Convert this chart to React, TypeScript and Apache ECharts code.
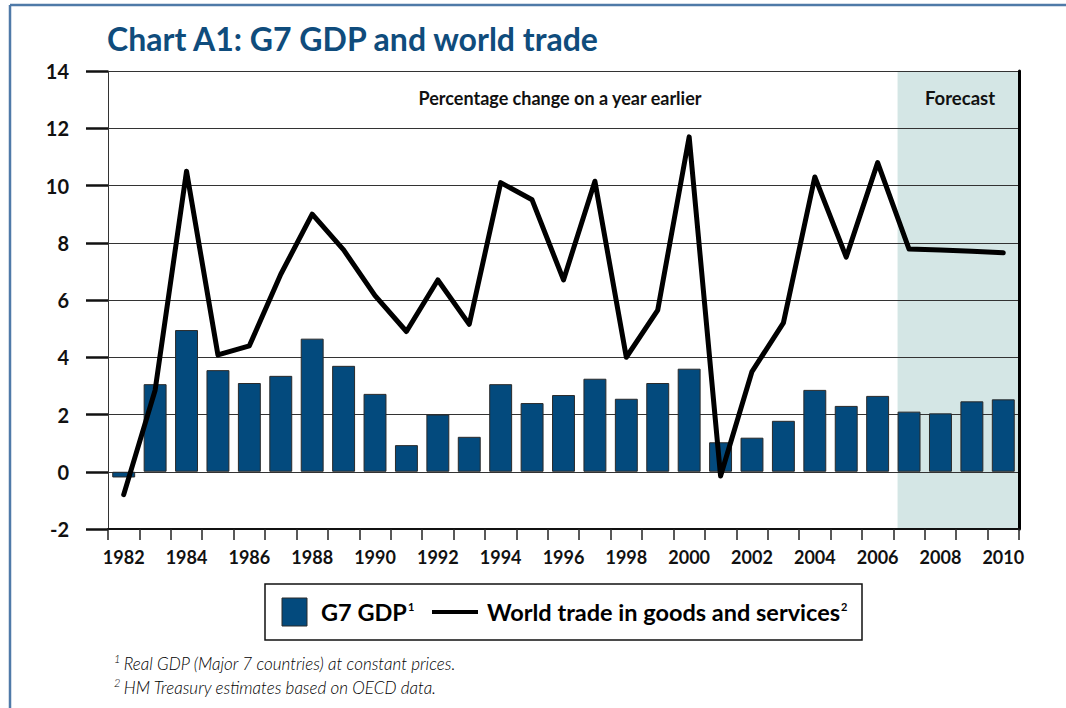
import React, { useEffect, useRef } from "react";
import * as echarts from "echarts";

const years = [
  "1982", "1983", "1984", "1985", "1986", "1987", "1988", "1989", "1990", "1991",
  "1992", "1993", "1994", "1995", "1996", "1997", "1998", "1999", "2000", "2001",
  "2002", "2003", "2004", "2005", "2006", "2007", "2008", "2009", "2010",
];
const g7Gdp = [
  -0.2, 3.06, 4.95, 3.55, 3.1, 3.35, 4.65, 3.7, 2.72, 0.93,
  2.0, 1.22, 3.06, 2.4, 2.68, 3.25, 2.55, 3.1, 3.6, 1.03,
  1.19, 1.78, 2.86, 2.3, 2.65, 2.1, 2.04, 2.46, 2.53,
];
const worldTrade = [
  -0.8, 2.85, 10.5, 4.08, 4.4, 6.9, 9.0, 7.75, 6.15, 4.9,
  6.7, 5.15, 10.1, 9.5, 6.7, 10.15, 4.0, 5.65, 11.7, -0.15,
  3.5, 5.2, 10.3, 7.5, 10.8, 7.78, 7.75, 7.7, 7.65,
];
const firstForecastYear = "2007";
const yMin = -2;
const yMax = 14;
const yStep = 2;

const FONT = "Lato, 'Open Sans', sans-serif";

export default function App() {
  const ref = useRef<HTMLDivElement>(null);
  useEffect(() => {
    if (!ref.current) return;
    const chart = echarts.init(ref.current, null, { renderer: "svg" });
    const option: any = {
      animation: false,
      backgroundColor: "#ffffff",
      textStyle: { fontFamily: FONT },
      grid: { left: 108, right: 47, top: 71, bottom: 179, containLabel: false },
      xAxis: {
        type: "category",
        data: years,
        boundaryGap: true,
        axisLine: { onZero: false, lineStyle: { color: "#111", width: 2 } },
        axisTick: { show: true, interval: 0, length: 11, lineStyle: { color: "#222", width: 1.5 } },
        axisLabel: {
          interval: 1,
          fontSize: 18,
          fontWeight: "bold",
          color: "#111",
          fontFamily: FONT,
          margin: 19,
        },
        splitLine: { show: false },
      },
      yAxis: [
        {
          type: "value",
          min: yMin,
          max: yMax,
          interval: yStep,
          axisLine: { show: true, lineStyle: { color: "#333", width: 1 } },
          axisTick: { show: true, inside: false, length: 22, lineStyle: { color: "#111", width: 2.5 } },
          axisLabel: {
            fontSize: 20,
            fontWeight: "bold",
            color: "#111",
            fontFamily: FONT,
            margin: 39,
          },
          splitLine: { show: true, lineStyle: { color: "#333", width: 1 } },
        },
        {
          type: "value",
          min: yMin,
          max: yMax,
          interval: yStep,
          position: "right",
          axisLine: { show: true, lineStyle: { color: "#000", width: 3 } },
          axisTick: { show: false },
          axisLabel: { show: false },
          splitLine: { show: false },
        },
      ],
      series: [
        {
          name: "G7 GDP",
          type: "bar",
          data: g7Gdp,
          barCategoryGap: "27%",
          itemStyle: { color: "#034a7d", borderColor: "#2a2a2a", borderWidth: 1 },
          z: 3,
        },
        {
          name: "World trade in goods and services",
          type: "line",
          data: worldTrade,
          symbol: "none",
          lineStyle: { color: "#000", width: 5, cap: "round", join: "round" },
          z: 4,
        },
      ],
      graphic: [
        {
          id: "frameTop",
          type: "line",
          shape: { x1: 10, y1: 5, x2: 1066, y2: 5 },
          style: { stroke: "#4f7aa8", lineWidth: 2.5 },
        },
        {
          id: "frameLeft",
          type: "line",
          shape: { x1: 10, y1: 5, x2: 10, y2: 708 },
          style: { stroke: "#4f7aa8", lineWidth: 2.5 },
        },
        {
          id: "title",
          type: "text",
          x: 107,
          y: 38,
          style: {
            text: "Chart A1: G7 GDP and world trade",
            fontFamily: FONT,
            fontSize: 32,
            fontWeight: "bold",
            fill: "#0f4c7c",
            verticalAlign: "middle",
          },
        },
        {
          id: "subtitle",
          type: "text",
          x: 560,
          y: 98,
          z: 5,
          style: {
            text: "Percentage change on a year earlier",
            fontFamily: FONT,
            fontSize: 18,
            fontWeight: "bold",
            fill: "#111",
            align: "center",
            verticalAlign: "middle",
          },
        },
        {
          id: "forecastLabel",
          type: "text",
          x: 960,
          y: 98,
          z: 5,
          style: {
            text: "Forecast",
            fontFamily: FONT,
            fontSize: 18.5,
            fontWeight: "bold",
            fill: "#111",
            align: "center",
            verticalAlign: "middle",
          },
        },
        {
          id: "legendBox",
          type: "rect",
          shape: { x: 265, y: 584, width: 597, height: 56 },
          style: { fill: "#fff", stroke: "#111", lineWidth: 1.5 },
        },
        {
          id: "legendBar",
          type: "rect",
          shape: { x: 282, y: 598, width: 25, height: 28 },
          style: { fill: "#034a7d", stroke: "#2a2a2a", lineWidth: 1 },
        },
        {
          id: "legendBarText",
          type: "text",
          x: 321,
          y: 612,
          style: {
            text: "{a|G7 GDP}{s|1}",
            verticalAlign: "middle",
            rich: {
              a: { fontFamily: FONT, fontSize: 23.5, fontWeight: "bold", color: "#111" },
              s: { fontFamily: FONT, fontSize: 11, fontWeight: "bold", color: "#111", padding: [0, 0, 12, 1] },
            },
          },
        },
        {
          id: "legendLine",
          type: "line",
          shape: { x1: 432, y1: 612, x2: 478, y2: 612 },
          style: { stroke: "#000", lineWidth: 4 },
        },
        {
          id: "legendLineText",
          type: "text",
          x: 487,
          y: 612,
          style: {
            text: "{a|World trade in goods and services}{s|2}",
            verticalAlign: "middle",
            rich: {
              a: { fontFamily: FONT, fontSize: 23.5, fontWeight: "bold", color: "#111" },
              s: { fontFamily: FONT, fontSize: 11, fontWeight: "bold", color: "#111", padding: [0, 0, 12, 1] },
            },
          },
        },
        {
          id: "note1",
          type: "text",
          x: 114,
          y: 663,
          style: {
            text: "{s|1} {a|Real GDP (Major 7 countries) at constant prices.}",
            verticalAlign: "middle",
            rich: {
              a: { fontFamily: FONT, fontSize: 17, fontStyle: "italic", fontWeight: 300, color: "#333" },
              s: { fontFamily: FONT, fontSize: 11, fontStyle: "italic", fontWeight: 300, color: "#333", padding: [0, 0, 10, 0] },
            },
          },
        },
        {
          id: "note2",
          type: "text",
          x: 114,
          y: 687,
          style: {
            text: "{s|2} {a|HM Treasury estimates based on OECD data.}",
            verticalAlign: "middle",
            rich: {
              a: { fontFamily: FONT, fontSize: 17, fontStyle: "italic", fontWeight: 300, color: "#333" },
              s: { fontFamily: FONT, fontSize: 11, fontStyle: "italic", fontWeight: 300, color: "#333", padding: [0, 0, 10, 0] },
            },
          },
        },
      ],
    };
    chart.setOption(option);

    const cx = chart.convertToPixel({ xAxisIndex: 0 }, firstForecastYear) as number;
    const cxPrev = chart.convertToPixel({ xAxisIndex: 0 }, years[years.indexOf(firstForecastYear) - 1]) as number;
    const band = cx - cxPrev;
    const yTop = chart.convertToPixel({ yAxisIndex: 0 }, yMax) as number;
    const yBot = chart.convertToPixel({ yAxisIndex: 0 }, yMin) as number;
    const xRight = 1066 - 47;
    const x0 = cx - band * 0.366;
    chart.setOption({
      graphic: [
        {
          id: "forecastShade",
          type: "rect",
          z: -1,
          shape: { x: x0, y: yTop, width: xRight - x0, height: yBot - yTop },
          style: { fill: "#d4e6e5" },
          silent: true,
        },
      ],
    });

    return () => chart.dispose();
  }, []);
  return (
    <div
      ref={ref}
      style={{ position: "fixed", left: 0, top: 0, width: 1066, height: 708 }}
    />
  );
}
